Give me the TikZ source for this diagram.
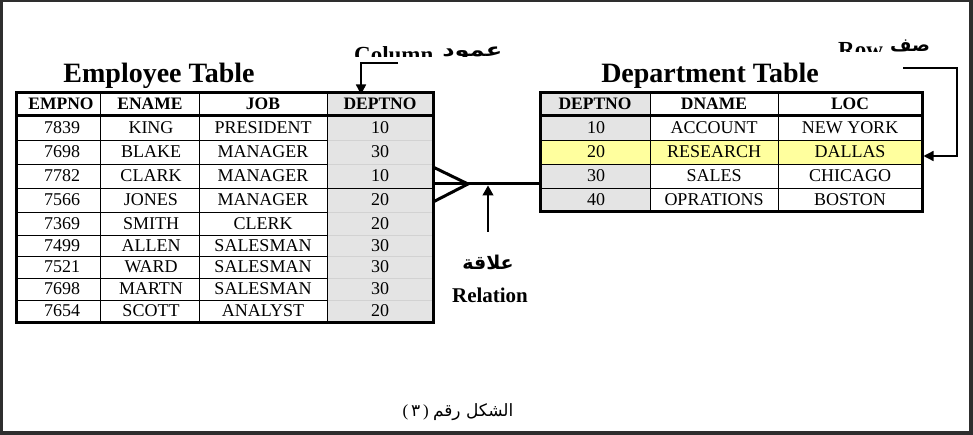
\documentclass[tikz,border=0pt]{standalone}
\usepackage{fontspec}
\setmainfont{Liberation Serif}
\newfontfamily\arabicfont[Script=Arabic]{DejaVu Sans}
\TeXXeTstate=1
\usetikzlibrary{arrows.meta}
\definecolor{framegray}{HTML}{2E2E2E}
\definecolor{cellgray}{HTML}{E4E4E4}
\definecolor{hiyellow}{HTML}{FFFF9E}
\tikzset{
  cell/.style={font=\fontsize{18}{20}\selectfont, inner sep=0pt},
  head/.style={font=\bfseries\fontsize{17.5}{20}\selectfont, inner sep=0pt},
  tabletitle/.style={font=\bfseries\fontsize{28}{30}\selectfont, inner sep=0pt},
  lbl/.style={font=\bfseries\fontsize{23}{25}\selectfont, inner sep=0pt, anchor=base west},
  arlbl/.style={font=\arabicfont\bfseries\fontsize{18.5}{22}\selectfont, inner sep=0pt, anchor=base west},
  tableframe/.style={draw, line width=3pt, inner sep=0pt, outer sep=0pt},
  gridline/.style={line width=0.8pt},
  softgrid/.style={line width=0.4pt, gray!35},
  thickline/.style={line width=3pt},
  ptr/.style={line width=1.4pt, -{Triangle[width=10pt,length=10pt]}},
}
\begin{document}
\begin{tikzpicture}[x=1pt,y=-1pt]
\useasboundingbox (0,0) rectangle (973,435);
\fill[framegray] (0,0) rectangle (973,435);
\fill[white] (3,2) rectangle (969,431);

% ---------- Employee table ----------
\fill[cellgray] (327,93) rectangle (433,322);
\foreach \y in {140,164,212,235,256,278,300} {
  \draw[gridline] (16,\y) -- (327,\y);
  \draw[softgrid] (327,\y) -- (433,\y);
}
\draw[gridline] (16,188) -- (433,188);
\foreach \x in {100,199,327} \draw[gridline] (\x,93) -- (\x,322);
\draw[thickline] (16,116) -- (433,116);
\node[tableframe, minimum width=417pt, minimum height=229pt] (emp) at (224.5,207.5) {};

\node[head] (eh1) at (61,104) {EMPNO};
\node[head] (eh2) at (150,104) {ENAME};
\node[head] (eh3) at (263,104) {JOB};
\node[head] (eh4) at (380,104) {DEPTNO};
\foreach \n/\a/\b/\c/\d/\y in {
  1/7839/KING/PRESIDENT/10/128,
  2/7698/BLAKE/MANAGER/30/152,
  3/7782/CLARK/MANAGER/10/176,
  4/7566/JONES/MANAGER/20/200,
  5/7369/SMITH/CLERK/20/224,
  6/7499/ALLEN/SALESMAN/30/245.5,
  7/7521/WARD/SALESMAN/30/267,
  8/7698/MARTN/SALESMAN/30/289,
  9/7654/SCOTT/ANALYST/20/311} {
  \node[cell] (e\n a) at (62,\y) {\a};
  \node[cell] (e\n b) at (151,\y) {\b};
  \node[cell] (e\n c) at (263,\y) {\c};
  \node[cell] (e\n d) at (380,\y) {\d};
}
\node[tabletitle] (emptitle) at (159,76) {Employee Table};

% ---------- Department table ----------
\fill[cellgray] (540,93) rectangle (650,212);
\fill[hiyellow] (540,140) rectangle (922,164);
\foreach \y in {140,164,188} \draw[gridline] (540,\y) -- (922,\y);
\foreach \x in {650,778} \draw[gridline] (\x,93) -- (\x,212);
\draw[thickline] (540,116) -- (922,116);
\node[tableframe, minimum width=382pt, minimum height=119pt] (dept) at (731,152.5) {};

\node[head] (dh1) at (595,104) {DEPTNO};
\node[head] (dh2) at (714,104) {DNAME};
\node[head] (dh3) at (850,104) {LOC};
\foreach \n/\a/\b/\c/\y in {
  1/10/ACCOUNT/NEW YORK/128,
  2/20/RESEARCH/DALLAS/152,
  3/30/SALES/CHICAGO/176,
  4/40/OPRATIONS/BOSTON/200} {
  \node[cell] (d\n a) at (596,\y) {\a};
  \node[cell] (d\n b) at (714,\y) {\b};
  \node[cell] (d\n c) at (850,\y) {\c};
}
\node[tabletitle] (depttitle) at (710,76) {Department Table};

% ---------- Relation ----------
\coordinate (cf) at (468,184);
\coordinate (cfa) at (433,167);
\coordinate (cfb) at (433,202);
\draw[thickline, line join=miter] (cfa) -- (cf) -- (cfb);
\draw[thickline] (emp.east |- cf) -- (dept.west |- cf);
\coordinate (relbot) at (488,232);
\coordinate (reltip) at (488,185.5);
\draw[line width=1.2pt, -{Triangle[width=11pt,length=10pt]}] (relbot) -- (reltip);
\node[font=\arabicfont\bfseries\fontsize{19}{22}\selectfont, inner sep=0pt] (relar) at (488,262) {\beginR علاقة\endR};
\node[font=\bfseries\fontsize{21}{23}\selectfont, inner sep=0pt] (relen) at (490,295) {Relation};

% ---------- Column pointer ----------
\begin{scope}
  \clip (340,30) rectangle (520,56.5);
  \node[lbl] (colen) at (354,63) {Column};
  \node[arlbl, xscale=1.3] (colar) at (442,57) {\beginR عمود\endR};
\end{scope}
\coordinate (colstart) at (398,63);
\coordinate (colcorner) at (361,63);
\draw[ptr] (colstart) -- (colcorner) -- ([yshift=-1.5pt]emp.north -| colcorner);

% ---------- Row pointer ----------
\begin{scope}
  \clip (820,20) rectangle (940,52);
  \node[lbl] (rowen) at (838,58) {Row};
  \node[arlbl] (rowar) at (890,51.5) {\beginR صف\endR};
\end{scope}
\coordinate (rowstart) at (903,68);
\coordinate (rowcorner) at (957,68);
\coordinate (rowlevel) at (957,156);
\draw[ptr] (rowstart) -- (rowcorner) -- (rowlevel) -- ([xshift=1.5pt]dept.east |- rowlevel);

% ---------- Caption ----------
\node[inner sep=0pt, font=\fontsize{17}{19}\selectfont] (caption) at (458,412)
  {(\,{\arabicfont ٣}\,)\ {\arabicfont\beginR الشكل رقم\endR}};
\end{tikzpicture}
\end{document}
